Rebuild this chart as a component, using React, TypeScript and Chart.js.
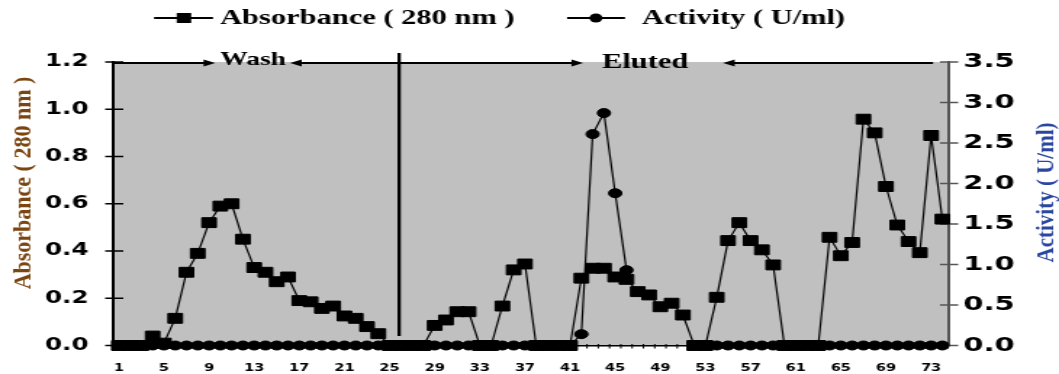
import React, { useEffect, useRef } from 'react';
import { Chart, registerables } from 'chart.js';

Chart.register(...registerables);

// ---------------- data ----------------
const fractions: string[] = [
  '1', '2', '3', '4', '5', '6', '7', '8', '9', '10',
  '11', '12', '13', '14', '15', '16', '17', '18', '19', '20',
  '21', '22', '23', '24', '25', '26', '27', '28', '29', '30',
  '31', '32', '33', '34', '35', '36', '37', '38', '39', '40',
  '41', '42', '43', '44', '45', '46', '47', '48', '49', '50',
  '51', '52', '53', '54', '55', '56', '57', '58', '59', '60',
  '61', '62', '63', '64', '65', '66', '67', '68', '69', '70',
  '71', '72', '73', '74',
];

// Absorbance (280 nm), left axis
const absorbance: number[] = [
  0, 0, 0, 0.04, 0.01, 0.115, 0.31, 0.39, 0.52, 0.59,
  0.6, 0.45, 0.33, 0.31, 0.27, 0.29, 0.19, 0.185, 0.157, 0.167,
  0.125, 0.115, 0.08, 0.05, 0, 0, 0, 0, 0.085, 0.108,
  0.143, 0.143, 0, 0, 0.167, 0.32, 0.345, 0, 0, 0,
  0, 0.285, 0.327, 0.327, 0.29, 0.28, 0.228, 0.214, 0.164, 0.179,
  0.129, 0, 0, 0.204, 0.444, 0.52, 0.444, 0.405, 0.341, 0,
  0, 0, 0, 0.458, 0.38, 0.436, 0.958, 0.9, 0.673, 0.51,
  0.44, 0.393, 0.889, 0.535,
];

// Activity (U/ml), right axis
const activity: (number | null)[] = [
  0, 0, 0, 0, 0, 0, 0, 0, 0, 0,
  0, 0, 0, 0, 0, 0, 0, 0, 0, 0,
  0, 0, 0, 0, 0, 0, 0, 0, 0, 0,
  0, 0, 0, 0, 0, 0, 0, 0, 0, 0,
  0, 0.14, 2.61, 2.87, 1.88, 0.93, null, null, null, null,
  null, 0, 0, 0, 0, 0, 0, 0, 0, 0,
  0, 0, 0, 0, 0, 0, 0, 0, 0, 0,
  0, 0, 0, 0,
];

const seriesLabels = ['Absorbance ( 280 nm )', 'Activity ( U/ml)'];
const axisTitles = ['Absorbance ( 280 nm )', 'Activity ( U/ml)'];
const phaseLabels = ['Wash', 'Eluted'];

// phase markers, as fractional category indexes
const WASH_START = -0.5;
const WASH_TIP = 8.54;
const WASH_TEXT = 11.9;
const WASH_BACK_TIP = 15.19;
const SPLIT = 24.85;
const ELUTE_TIP = 41.15;
const ELUTE_TEXT = 46.65;
const ELUTE_BACK_TIP = 53.56;
const ELUTE_END = 72.17;

// ---------------- layout ----------------
const CANVAS_W = 730;
const CANVAS_H = 374;
const STRETCH = 1059 / CANVAS_W;

const LEFT_TITLE_COLOR = '#7a4510';
const RIGHT_TITLE_COLOR = '#2a46a0';

function line(ctx: CanvasRenderingContext2D, x0: number, y0: number, x1: number, y1: number) {
  ctx.beginPath();
  ctx.moveTo(x0, y0);
  ctx.lineTo(x1, y1);
  ctx.stroke();
}

function arrow(ctx: CanvasRenderingContext2D, from: number, tip: number, yy: number) {
  const dir = tip > from ? 1 : -1;
  const head = 8;
  line(ctx, from, yy, tip - dir * head + dir * 1, yy);
  ctx.beginPath();
  ctx.moveTo(tip, yy);
  ctx.lineTo(tip - dir * head, yy - 3.5);
  ctx.lineTo(tip - dir * head, yy + 3.5);
  ctx.closePath();
  ctx.fill();
}

const overlay = {
  id: 'overlay',
  beforeDraw(chart: any) {
    const { ctx, chartArea: a } = chart;
    ctx.save();
    ctx.fillStyle = '#ffffff';
    ctx.fillRect(0, 0, chart.width, chart.height);
    ctx.fillStyle = '#c0c0c0';
    ctx.fillRect(a.left, a.top, a.right - a.left, a.bottom - a.top);
    ctx.restore();
  },
  beforeDatasetsDraw(chart: any) {
    const { ctx, chartArea: a, scales } = chart;
    const x = scales.x;
    const y = scales.y;
    const y1 = scales.y1;
    ctx.save();
    // crossing tick marks on the value axes
    ctx.strokeStyle = '#000';
    ctx.lineWidth = 1.5;
    y.ticks.forEach((t: any) => {
      const py = y.getPixelForValue(t.value);
      line(ctx, a.left - 5.5, py, a.left + 7, py);
    });
    ctx.strokeStyle = '#555';
    y1.ticks.forEach((t: any) => {
      const py = y1.getPixelForValue(t.value);
      line(ctx, a.right - 5.5, py, a.right + 7, py);
    });
    // category boundary ticks
    ctx.strokeStyle = '#000';
    ctx.lineWidth = 1;
    for (let i = 0; i <= fractions.length; i++) {
      const px = x.getPixelForValue(i - 0.5);
      line(ctx, px, a.bottom - 1.5, px, a.bottom + 3);
    }
    // separator between wash and elution
    ctx.lineWidth = 2.3;
    const sx = x.getPixelForValue(SPLIT);
    line(ctx, sx, a.top - 9, sx, a.bottom - 9.5);
    // arrows
    ctx.lineWidth = 1.8;
    ctx.fillStyle = '#000';
    const ay = a.top + 1;
    arrow(ctx, x.getPixelForValue(WASH_START), x.getPixelForValue(WASH_TIP), ay);
    arrow(ctx, sx, x.getPixelForValue(WASH_BACK_TIP), ay);
    arrow(ctx, sx, x.getPixelForValue(ELUTE_TIP), ay);
    arrow(ctx, x.getPixelForValue(ELUTE_END), x.getPixelForValue(ELUTE_BACK_TIP), ay);
    ctx.textAlign = 'center';
    ctx.textBaseline = 'alphabetic';
    ctx.font = 'bold 19px "Liberation Serif"';
    ctx.fillText(phaseLabels[0], x.getPixelForValue(WASH_TEXT), a.top + 3);
    ctx.font = 'bold 21px "Liberation Serif"';
    ctx.fillText(phaseLabels[1], x.getPixelForValue(ELUTE_TEXT), a.top + 6);
    ctx.restore();
  },
  afterDraw(chart: any) {
    const { ctx } = chart;
    ctx.save();
    // legend
    const ly = 18;
    ctx.strokeStyle = '#000';
    ctx.fillStyle = '#000';
    ctx.lineWidth = 2;
    line(ctx, 106.2, ly, 146.8, ly);
    ctx.fillRect(126.8 - 5, ly - 5, 10, 10);
    line(ctx, 390.9, ly, 430.8, ly);
    ctx.beginPath();
    ctx.arc(410.8, ly, 4.5, 0, Math.PI * 2);
    ctx.fill();
    ctx.font = 'bold 21px "Liberation Serif"';
    ctx.textAlign = 'left';
    ctx.textBaseline = 'middle';
    ctx.fillText(chart.data.datasets[0].label, 151.7, ly + 1);
    ctx.fillText(chart.data.datasets[1].label, 442.6, ly + 1);
    // axis titles
    const drawTitle = (text: string, cx: number, cy: number, color: string, size: number) => {
      ctx.save();
      ctx.translate(cx, cy);
      ctx.scale(0.8, 1);
      ctx.rotate(-Math.PI / 2);
      ctx.font = `bold ${size}px "Liberation Serif"`;
      ctx.fillStyle = color;
      ctx.textAlign = 'center';
      ctx.textBaseline = 'middle';
      ctx.fillText(text, 0, 0);
      ctx.restore();
    };
    drawTitle(axisTitles[0], 16.5, 183, LEFT_TITLE_COLOR, 22);
    drawTitle(axisTitles[1], 721.7, 192.5, RIGHT_TITLE_COLOR, 21);
    ctx.restore();
  },
};

export default function App() {
  const ref = useRef<HTMLCanvasElement>(null);

  useEffect(() => {
    document.body.style.margin = '0';
    document.body.style.overflow = 'hidden';
    const canvas = ref.current;
    if (!canvas) return;
    const chart = new Chart(canvas, {
      type: 'line',
      data: {
        labels: fractions,
        datasets: [
          {
            label: seriesLabels[0],
            data: absorbance,
            yAxisID: 'y',
            borderColor: '#000',
            borderWidth: 1.2,
            pointStyle: 'rect',
            pointRadius: 7,
            pointBackgroundColor: '#000',
            pointBorderColor: '#000',
            pointBorderWidth: 1,
            tension: 0,
            clip: false as any,
            order: 1,
          },
          {
            label: seriesLabels[1],
            data: activity,
            yAxisID: 'y1',
            borderColor: '#000',
            borderWidth: 1.2,
            pointStyle: 'circle',
            pointRadius: 4.5,
            pointBackgroundColor: '#000',
            pointBorderColor: '#000',
            pointBorderWidth: 1,
            tension: 0,
            spanGaps: false,
            clip: false as any,
            order: 0,
          },
        ],
      },
      options: {
        responsive: false,
        animation: false,
        devicePixelRatio: 1,
        events: [],
        layout: { padding: { top: 62, left: 0, right: 0, bottom: 0 } },
        plugins: {
          legend: { display: false },
          tooltip: { enabled: false },
        },
        scales: {
          x: {
            type: 'category',
            offset: true,
            grid: { display: false, drawTicks: false },
            border: { display: true, color: '#000', width: 1.5 },
            ticks: {
              autoSkip: false,
              maxRotation: 0,
              minRotation: 0,
              padding: 17,
              color: '#000',
              font: { family: 'DejaVu Sans', weight: 'bold', size: 10 },
              callback: (_v: any, i: number) => (i % 4 === 0 ? fractions[i] : ''),
            },
            afterFit: (s: any) => {
              s.height = 28.5;
            },
          },
          y: {
            position: 'left',
            min: 0,
            max: 1.2,
            grid: { display: false, drawTicks: false },
            border: { display: true, color: '#000', width: 2 },
            ticks: {
              stepSize: 0.2,
              padding: 17,
              color: '#000',
              font: { family: 'DejaVu Sans', weight: 'bold', size: 17 },
              callback: (v: any) => Number(v).toFixed(1),
            },
            afterFit: (s: any) => {
              s.width = 78;
            },
          },
          y1: {
            position: 'right',
            min: 0,
            max: 3.5,
            grid: { display: false, drawTicks: false },
            border: { display: true, color: '#555', width: 2 },
            ticks: {
              stepSize: 0.5,
              padding: 10.5,
              color: '#000',
              font: { family: 'DejaVu Sans', weight: 'bold', size: 20 },
              callback: (v: any) => Number(v).toFixed(1),
            },
            afterFit: (s: any) => {
              s.width = 76.5;
            },
          },
        },
      } as any,
      plugins: [overlay],
    });
    return () => chart.destroy();
  }, []);

  return (
    <div style={{ position: 'relative', width: 1059, height: 374, overflow: 'hidden', background: '#fff' }}>
      <canvas
        ref={ref}
        width={CANVAS_W}
        height={CANVAS_H}
        style={{ position: 'absolute', left: 0, top: 0, transform: `scaleX(${STRETCH})`, transformOrigin: '0 0' }}
      />
    </div>
  );
}
